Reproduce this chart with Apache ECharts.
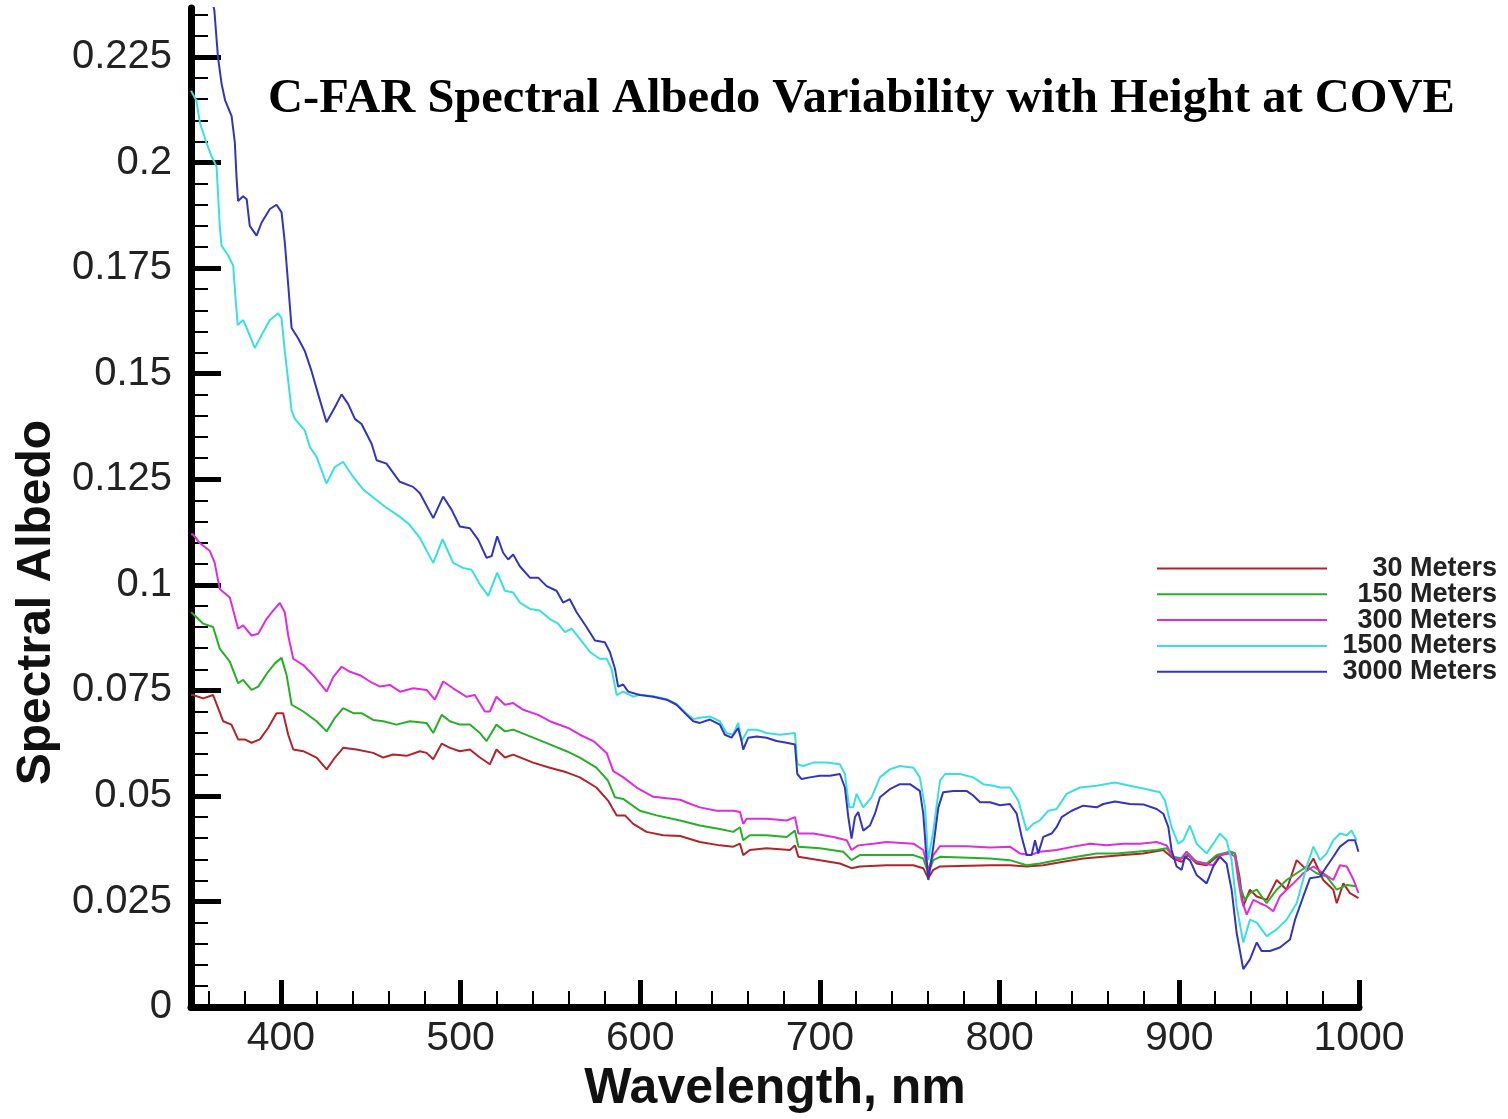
<!DOCTYPE html>
<html>
<head>
<meta charset="utf-8">
<script src="https://cdn.jsdelivr.net/npm/echarts@6/dist/echarts.min.js"></script>
<style>
html,body{margin:0;padding:0;background:#fff;}
#chart{width:1508px;height:1119px;}
</style>
</head>
<body>
<div id="chart"></div>
<script>
// ---- Data (wavelength nm, spectral albedo) ----
const seriesNames = ['30 Meters', '150 Meters', '300 Meters', '1500 Meters', '3000 Meters'];

const albedo30m = [[350,0.0739],[351.2,0.0739],[356.8,0.0731],[362.3,0.0739],[365.1,0.0708],[367.9,0.0677],[372.5,0.0669],[376.2,0.0634],[379.9,0.0634],[383.7,0.0626],[388.3,0.0634],[392.9,0.0661],[397.6,0.0696],[401.3,0.0696],[404.1,0.0645],[406.9,0.061],[412.5,0.0606],[419.9,0.0591],[425.5,0.0563],[430.1,0.0591],[434.7,0.0614],[442.1,0.061],[451.4,0.0602],[457,0.0591],[462.5,0.0598],[470,0.0595],[477.4,0.0606],[481.1,0.0602],[484.8,0.0587],[489.5,0.0624],[494.1,0.0614],[499.6,0.0606],[505.2,0.061],[510.8,0.0591],[516.3,0.0575],[520,0.061],[524.7,0.0591],[529.3,0.0598],[540.4,0.0579],[549.7,0.0567],[559,0.0556],[566.4,0.0544],[575.6,0.052],[582.1,0.0489],[586.9,0.0454],[591.5,0.0454],[596.1,0.0434],[603.5,0.0415],[612.8,0.0407],[622.2,0.0405],[633.2,0.0391],[644.3,0.0383],[651.8,0.038],[655.5,0.0387],[657.3,0.036],[661,0.0372],[670.3,0.0376],[683.3,0.0372],[686.1,0.0383],[688,0.0356],[700,0.0348],[711.1,0.034],[717.6,0.0329],[722.2,0.0333],[737.1,0.0336],[752,0.0336],[757.5,0.0329],[760.3,0.0305],[763.1,0.0325],[766.8,0.0333],[794.6,0.0336],[805.7,0.0336],[815,0.0333],[824.3,0.0336],[835.4,0.0344],[846.5,0.0352],[857.7,0.0356],[868.8,0.036],[879.9,0.0364],[891.1,0.0372],[896.6,0.0352],[901.3,0.0344],[905,0.036],[909.6,0.034],[915.2,0.0336],[920.8,0.0356],[928.2,0.0368],[931,0.0364],[933.5,0.0309],[935.6,0.0239],[939.3,0.0278],[943.1,0.0262],[948.6,0.0254],[954.2,0.0301],[959.7,0.0278],[965.3,0.0348],[970.9,0.0325],[974.6,0.0352],[980.1,0.0301],[985.7,0.0278],[987.6,0.0246],[991.3,0.0293],[995,0.027],[999.7,0.0258]];

const albedo150m = [[350,0.0935],[351.2,0.0931],[356.8,0.0908],[362.3,0.09],[366,0.0849],[371.6,0.0818],[376.2,0.0767],[379,0.0775],[383.7,0.0751],[387.4,0.0759],[392.9,0.0794],[396.7,0.0814],[400.4,0.0827],[403.2,0.0786],[406,0.0716],[412.5,0.07],[419.9,0.0677],[425.5,0.0653],[430.1,0.0685],[434.7,0.0708],[440.3,0.0696],[444.9,0.0696],[451.4,0.068],[457,0.0677],[464.4,0.0669],[471.8,0.0677],[481.1,0.0673],[484.8,0.0649],[489.5,0.0692],[494.1,0.0677],[499.6,0.0669],[505.2,0.0669],[510.8,0.0649],[514.5,0.063],[520,0.0669],[524.7,0.0653],[529.3,0.0657],[540.4,0.0638],[549.7,0.0622],[559,0.0606],[566.4,0.0591],[575.6,0.0567],[582.1,0.0536],[585.9,0.0497],[590.5,0.0493],[599.8,0.0465],[609.1,0.0454],[622.2,0.0442],[633.2,0.043],[644.3,0.0422],[651.8,0.0415],[655.5,0.0426],[657.3,0.0395],[661,0.0407],[670.3,0.0407],[681.5,0.0403],[686.1,0.0418],[688,0.038],[700,0.0376],[713,0.0368],[717.6,0.0348],[722.2,0.036],[737.1,0.036],[752,0.036],[757.5,0.0352],[760.3,0.0317],[763.1,0.0348],[766.8,0.0356],[794.6,0.0352],[805.7,0.0348],[815,0.0336],[822.4,0.034],[831.7,0.0348],[842.9,0.0356],[854,0.0364],[865.1,0.0364],[876.2,0.0368],[887.4,0.0372],[892.9,0.0376],[896.6,0.0356],[901.3,0.0352],[905,0.0364],[909.6,0.0344],[915.2,0.034],[920.8,0.036],[928.2,0.0368],[931,0.0364],[933.8,0.0286],[936.5,0.0254],[939.3,0.027],[943.1,0.0278],[948.6,0.0246],[954.2,0.0278],[959.7,0.0301],[965.3,0.0317],[970.9,0.0333],[976.4,0.0317],[982,0.0309],[987.6,0.0278],[993.2,0.0289],[998.7,0.0286]];

const albedo300m = [[350,0.112],[351.2,0.1119],[354.9,0.1099],[360.5,0.108],[363.2,0.1052],[366,0.099],[371.6,0.097],[376.2,0.0896],[379,0.0904],[383.7,0.088],[387.4,0.0884],[392,0.0919],[395.7,0.0939],[399.4,0.0957],[402.2,0.0935],[404.1,0.088],[406.9,0.0825],[412.5,0.081],[418,0.0786],[425.5,0.0747],[429.2,0.0782],[433.8,0.0806],[438.5,0.0794],[444,0.0786],[449.6,0.0771],[455.2,0.0759],[460.7,0.0763],[466.3,0.0747],[473.7,0.0755],[481.1,0.0751],[485.7,0.0728],[490.3,0.0771],[495.9,0.0755],[503.3,0.0735],[507.9,0.0739],[513.5,0.07],[516.3,0.07],[520,0.0735],[524.7,0.0716],[529.3,0.072],[534.9,0.0704],[543.2,0.0692],[549.7,0.0677],[559.9,0.0661],[566.4,0.0645],[573.9,0.063],[581.3,0.0602],[585,0.0559],[590.6,0.0544],[598,0.052],[607.3,0.0498],[622.2,0.0491],[628,0.0481],[633.2,0.0473],[642.5,0.0465],[651.8,0.0465],[655.5,0.0462],[657.3,0.0434],[659.2,0.0446],[670.3,0.0446],[681.5,0.0442],[686.1,0.045],[688,0.0411],[696.3,0.0411],[707.5,0.0403],[714.9,0.0395],[717.6,0.0372],[721.3,0.0383],[729.7,0.0387],[737.1,0.0391],[752,0.0387],[757.5,0.0372],[760.3,0.0325],[763.1,0.036],[766.8,0.0381],[781.6,0.0381],[794.6,0.0378],[805.7,0.038],[811.3,0.0364],[816.9,0.036],[822.4,0.0368],[831.7,0.0372],[841,0.038],[850.3,0.0387],[859.6,0.0383],[868.8,0.0387],[878.1,0.0387],[887.4,0.0391],[892.9,0.0383],[896.6,0.0356],[900.3,0.0348],[904,0.0368],[907.8,0.0348],[913.3,0.034],[918.9,0.0336],[922.6,0.036],[928.2,0.0364],[931,0.0356],[932.8,0.0301],[934.7,0.0254],[937.5,0.0219],[941.2,0.0254],[944.9,0.0246],[948.6,0.0239],[952.3,0.0227],[956,0.0262],[959.7,0.0278],[963.5,0.0293],[969,0.0317],[974.6,0.0333],[980.1,0.0317],[985.7,0.0301],[989.4,0.0336],[993.2,0.0333],[997,0.0301],[999.7,0.027]];

const albedo1500m = [[350,0.217],[353,0.2147],[355,0.2093],[358.6,0.2047],[361.4,0.2015],[364.2,0.1991],[365,0.1929],[366,0.185],[367,0.1803],[370.7,0.178],[373.5,0.1756],[374.5,0.1694],[376,0.1615],[379,0.1627],[381,0.1608],[385.5,0.1561],[389.3,0.1592],[393.9,0.1627],[398.5,0.1643],[400.4,0.1631],[402.2,0.1553],[404.1,0.1483],[406,0.1412],[407.8,0.1393],[413.4,0.1365],[416.2,0.1326],[419.9,0.1303],[425.4,0.124],[430,0.1279],[434.7,0.1291],[440.2,0.1256],[446,0.1225],[452,0.1205],[458,0.1185],[465,0.1165],[471,0.1145],[477.4,0.1111],[484.8,0.1052],[490,0.1108],[495.9,0.1052],[501.5,0.104],[506.1,0.1036],[510.8,0.1001],[515.4,0.0974],[520.4,0.1029],[524.7,0.0986],[529.3,0.0982],[533,0.0958],[538.6,0.0943],[544.1,0.0939],[549.7,0.0919],[554.3,0.0908],[558.1,0.0888],[561.8,0.0896],[566.4,0.0872],[572,0.0841],[577.5,0.0825],[581.3,0.0825],[584,0.0802],[586.9,0.0739],[590.5,0.0747],[596.1,0.0735],[599.8,0.074],[607.2,0.0736],[614.7,0.0729],[620.2,0.0718],[625.8,0.0695],[629.5,0.0682],[633.2,0.0685],[638.8,0.0688],[644.3,0.0677],[648,0.0649],[651.7,0.0645],[654.5,0.0673],[656.4,0.063],[660.1,0.0657],[664.8,0.0657],[670.3,0.0649],[677.7,0.0645],[686.1,0.0649],[687.4,0.0575],[690.7,0.0571],[696.3,0.0579],[703.7,0.0579],[711.1,0.0575],[713.9,0.0552],[716.3,0.0473],[718.5,0.0473],[720.4,0.0505],[724.1,0.0473],[728.8,0.0497],[733.4,0.0544],[738.9,0.0563],[744.5,0.0571],[752,0.0567],[755.6,0.0544],[758.5,0.0473],[760.3,0.0348],[763.1,0.0418],[766.8,0.0536],[769.6,0.0552],[777.9,0.0552],[785.3,0.0544],[790.9,0.0528],[796.5,0.0524],[800.2,0.052],[805.7,0.052],[810.4,0.0489],[815,0.0418],[818.7,0.0434],[822.4,0.0442],[827.1,0.0465],[831.7,0.0469],[837.3,0.0505],[844.7,0.052],[854,0.0524],[864.2,0.0532],[872.5,0.0524],[881.8,0.0516],[889.2,0.0509],[892,0.0489],[895.7,0.0426],[899.4,0.0387],[902.2,0.0395],[905.9,0.043],[909.6,0.0387],[915.2,0.0364],[918.9,0.0387],[922.6,0.0411],[926.3,0.0395],[929.1,0.0348],[931.9,0.0239],[935.6,0.0153],[939.3,0.0207],[943.1,0.02],[948.6,0.0168],[954.2,0.0184],[959.7,0.0207],[965.3,0.0246],[970.9,0.0333],[974.6,0.038],[978.3,0.0348],[982,0.0364],[985.7,0.0395],[989.4,0.0411],[993.2,0.0407],[995.9,0.0418],[998.7,0.0395]];

const albedo3000m = [[350,0.262],[356,0.25],[360,0.242],[363,0.236],[365,0.225],[367,0.2187],[369,0.2147],[372.6,0.211],[374.4,0.2047],[375.3,0.1968],[376.2,0.1909],[379,0.192],[381,0.1913],[382.7,0.185],[386.5,0.1827],[389.3,0.1858],[393.9,0.189],[397.6,0.19],[400.4,0.1882],[402.2,0.1811],[404.1,0.171],[406,0.1608],[409.6,0.1584],[413.4,0.1553],[417.1,0.1506],[420.8,0.1451],[425.4,0.1385],[430,0.142],[433.8,0.1451],[437.5,0.1428],[441.2,0.1393],[444.9,0.1381],[450.5,0.1334],[453.3,0.1295],[458.8,0.1287],[466.2,0.1244],[473.6,0.1232],[477.4,0.1217],[484.8,0.1158],[490.3,0.1209],[495,0.1178],[499.6,0.1138],[505.2,0.1134],[509.8,0.1107],[514.5,0.1064],[517.3,0.1068],[520.4,0.1115],[523.7,0.1076],[526.5,0.106],[529.3,0.1072],[533,0.1044],[538.6,0.1017],[543.2,0.1017],[547.9,0.0997],[553.4,0.0986],[557.1,0.0958],[560.8,0.0966],[564.6,0.0935],[570.1,0.09],[574.8,0.0868],[580.3,0.0864],[583.1,0.0841],[585.9,0.0802],[587.7,0.0759],[590.5,0.0764],[593.3,0.0747],[599.8,0.0739],[607.2,0.0735],[614.7,0.0728],[620.2,0.0716],[625.8,0.0692],[629.5,0.0677],[633.2,0.0673],[638.8,0.0681],[644.3,0.0669],[647.1,0.0645],[650.8,0.0638],[654.5,0.0661],[656.4,0.063],[657.3,0.061],[660.1,0.0638],[664.8,0.0641],[670.3,0.0638],[675.9,0.063],[681.5,0.0626],[686.1,0.0622],[687.4,0.0552],[689.8,0.054],[694.4,0.0544],[700,0.0548],[705.6,0.0548],[711.1,0.0552],[713.9,0.052],[715.8,0.045],[717.6,0.0399],[719.5,0.045],[721.3,0.0462],[724.1,0.0418],[727.8,0.043],[730.6,0.0458],[733.4,0.0497],[738.9,0.0516],[744.5,0.0528],[750.1,0.0528],[755.6,0.0512],[757.5,0.0458],[759.4,0.0348],[760.3,0.0301],[763.1,0.038],[765.9,0.0473],[768.6,0.0509],[774.2,0.0512],[781.6,0.0512],[785.3,0.0501],[789.1,0.0485],[794.6,0.0485],[800.2,0.0478],[805.7,0.0481],[809.5,0.0458],[812.3,0.0403],[815,0.036],[817.8,0.036],[819.7,0.0395],[821.5,0.0364],[824.3,0.0403],[828.9,0.0411],[831.7,0.0426],[834.5,0.045],[840.1,0.0465],[846.5,0.0477],[854,0.0473],[857.7,0.0481],[864.2,0.0487],[872.5,0.0481],[879.9,0.048],[887.4,0.0469],[891.1,0.0458],[893.9,0.0426],[895.7,0.0372],[898.5,0.0333],[901.3,0.0325],[903.1,0.0356],[905.9,0.0348],[909.6,0.0313],[915.2,0.0293],[918.9,0.0333],[922.6,0.0356],[926.3,0.034],[929.1,0.0278],[931.9,0.0176],[935.6,0.009],[939.3,0.0113],[943.1,0.0153],[945.8,0.0133],[950.4,0.0133],[956,0.0141],[961.6,0.016],[964.4,0.0207],[969,0.0262],[972.7,0.0305],[978.3,0.0309],[982,0.0333],[985.7,0.0356],[989.4,0.038],[994.1,0.0395],[997.8,0.0395],[999.7,0.0368]];

// ---- Axis tick values ----
const xMajorTicks = [400, 500, 600, 700, 800, 900, 1000];
const xMinorTicks = [360, 380, 420, 440, 460, 480, 520, 540, 560, 580, 620, 640, 660, 680, 720, 740, 760, 780, 820, 840, 860, 880, 920, 940, 960, 980];
const yMajorTicks = [0, 0.025, 0.05, 0.075, 0.1, 0.125, 0.15, 0.175, 0.2, 0.225];
const yMinorTicks = [0.005, 0.01, 0.015, 0.02, 0.03, 0.035, 0.04, 0.045, 0.055, 0.06, 0.065, 0.07, 0.08, 0.085, 0.09, 0.095, 0.105, 0.11, 0.115, 0.12, 0.13, 0.135, 0.14, 0.145, 0.155, 0.16, 0.165, 0.17, 0.18, 0.185, 0.19, 0.195, 0.205, 0.21, 0.215, 0.22, 0.23, 0.235];

const seriesColors = ['#b3242a', '#26b026', '#dd2ddd', '#38e0e0', '#3434c2'];
const seriesData = [albedo30m, albedo150m, albedo300m, albedo1500m, albedo3000m];

const X_MIN = 350, X_MAX = 1000, Y_MIN = 0, Y_MAX = 0.2366;
const labelFont = 'Liberation Sans, Arial, sans-serif';

const chart = echarts.init(document.getElementById('chart'), null, {renderer: 'canvas'});

const option = {
  backgroundColor: '#ffffff',
  animation: false,
  title: {
    text: 'C-FAR Spectral Albedo Variability with Height at COVE',
    left: 263,
    top: 70,
    textStyle: {fontFamily: 'Liberation Serif, Times New Roman, serif', fontWeight: 'bold', fontSize: 48.5, color: '#000'}
  },
  legend: {
    orient: 'vertical',
    left: 1152,
    top: 550,
    icon: 'rect',
    itemWidth: 170,
    itemHeight: 2,
    itemGap: -1.2,
    selectedMode: false,
    data: seriesNames,
    formatter: function (n) { return '{r|' + n + '}'; },
    textStyle: {
      rich: {
        r: {width: 165, align: 'right', fontSize: 27, lineHeight: 24, fontWeight: 'bold', fontFamily: labelFont, color: '#222'}
      }
    }
  },
  grid: {left: 191, width: 1168, top: 8, height: 1007, containLabel: false},
  xAxis: [
    {
      type: 'value', position: 'bottom', min: X_MIN, max: X_MAX,
      name: 'Wavelength, nm', nameLocation: 'middle', nameGap: 43,
      nameTextStyle: {fontFamily: labelFont, fontWeight: 'bold', fontSize: 50, color: '#111'},
      axisLine: {show: true, onZero: false, lineStyle: {color: '#000', width: 7}},
      axisTick: {show: true, inside: true, length: 27, lineStyle: {color: '#000', width: 5}, customValues: xMajorTicks},
      axisLabel: {show: true, margin: 11, fontFamily: labelFont, fontSize: 41, color: '#222', customValues: xMajorTicks,
        formatter: function (v) { return String(v); }},
      splitLine: {show: false}
    },
    {
      type: 'value', position: 'bottom', min: X_MIN, max: X_MAX,
      axisLine: {show: false},
      axisTick: {show: true, inside: true, length: 16, lineStyle: {color: '#000', width: 2}, customValues: xMinorTicks},
      axisLabel: {show: false},
      splitLine: {show: false}
    }
  ],
  yAxis: [
    {
      type: 'value', position: 'left', min: Y_MIN, max: Y_MAX,
      name: 'Spectral Albedo', nameLocation: 'middle', nameRotate: 90, nameGap: 129,
      nameTextStyle: {fontFamily: labelFont, fontWeight: 'bold', fontSize: 48, color: '#111', padding: [0, 190, 0, 0]},
      axisLine: {show: true, onZero: false, lineStyle: {color: '#000', width: 7}},
      axisTick: {show: true, inside: true, length: 30, lineStyle: {color: '#000', width: 5}, customValues: yMajorTicks},
      axisLabel: {show: true, margin: 19, fontFamily: labelFont, fontSize: 40, color: '#222', customValues: yMajorTicks,
        formatter: function (v) { return String(+v.toFixed(3)); }},
      splitLine: {show: false}
    },
    {
      type: 'value', position: 'left', min: Y_MIN, max: Y_MAX,
      axisLine: {show: false},
      axisTick: {show: true, inside: true, length: 17, lineStyle: {color: '#000', width: 2}, customValues: yMinorTicks},
      axisLabel: {show: false},
      splitLine: {show: false}
    }
  ],
  series: seriesNames.map(function (name, i) {
    return {
      name: name,
      type: 'line',
      xAxisIndex: 0,
      yAxisIndex: 0,
      data: seriesData[i],
      showSymbol: false,
      symbol: 'none',
      clip: true,
      itemStyle: {color: seriesColors[i]},
      lineStyle: {color: seriesColors[i], width: 2},
      z: 2 + i
    };
  })
};

chart.setOption(option);
</script>
</body>
</html>
